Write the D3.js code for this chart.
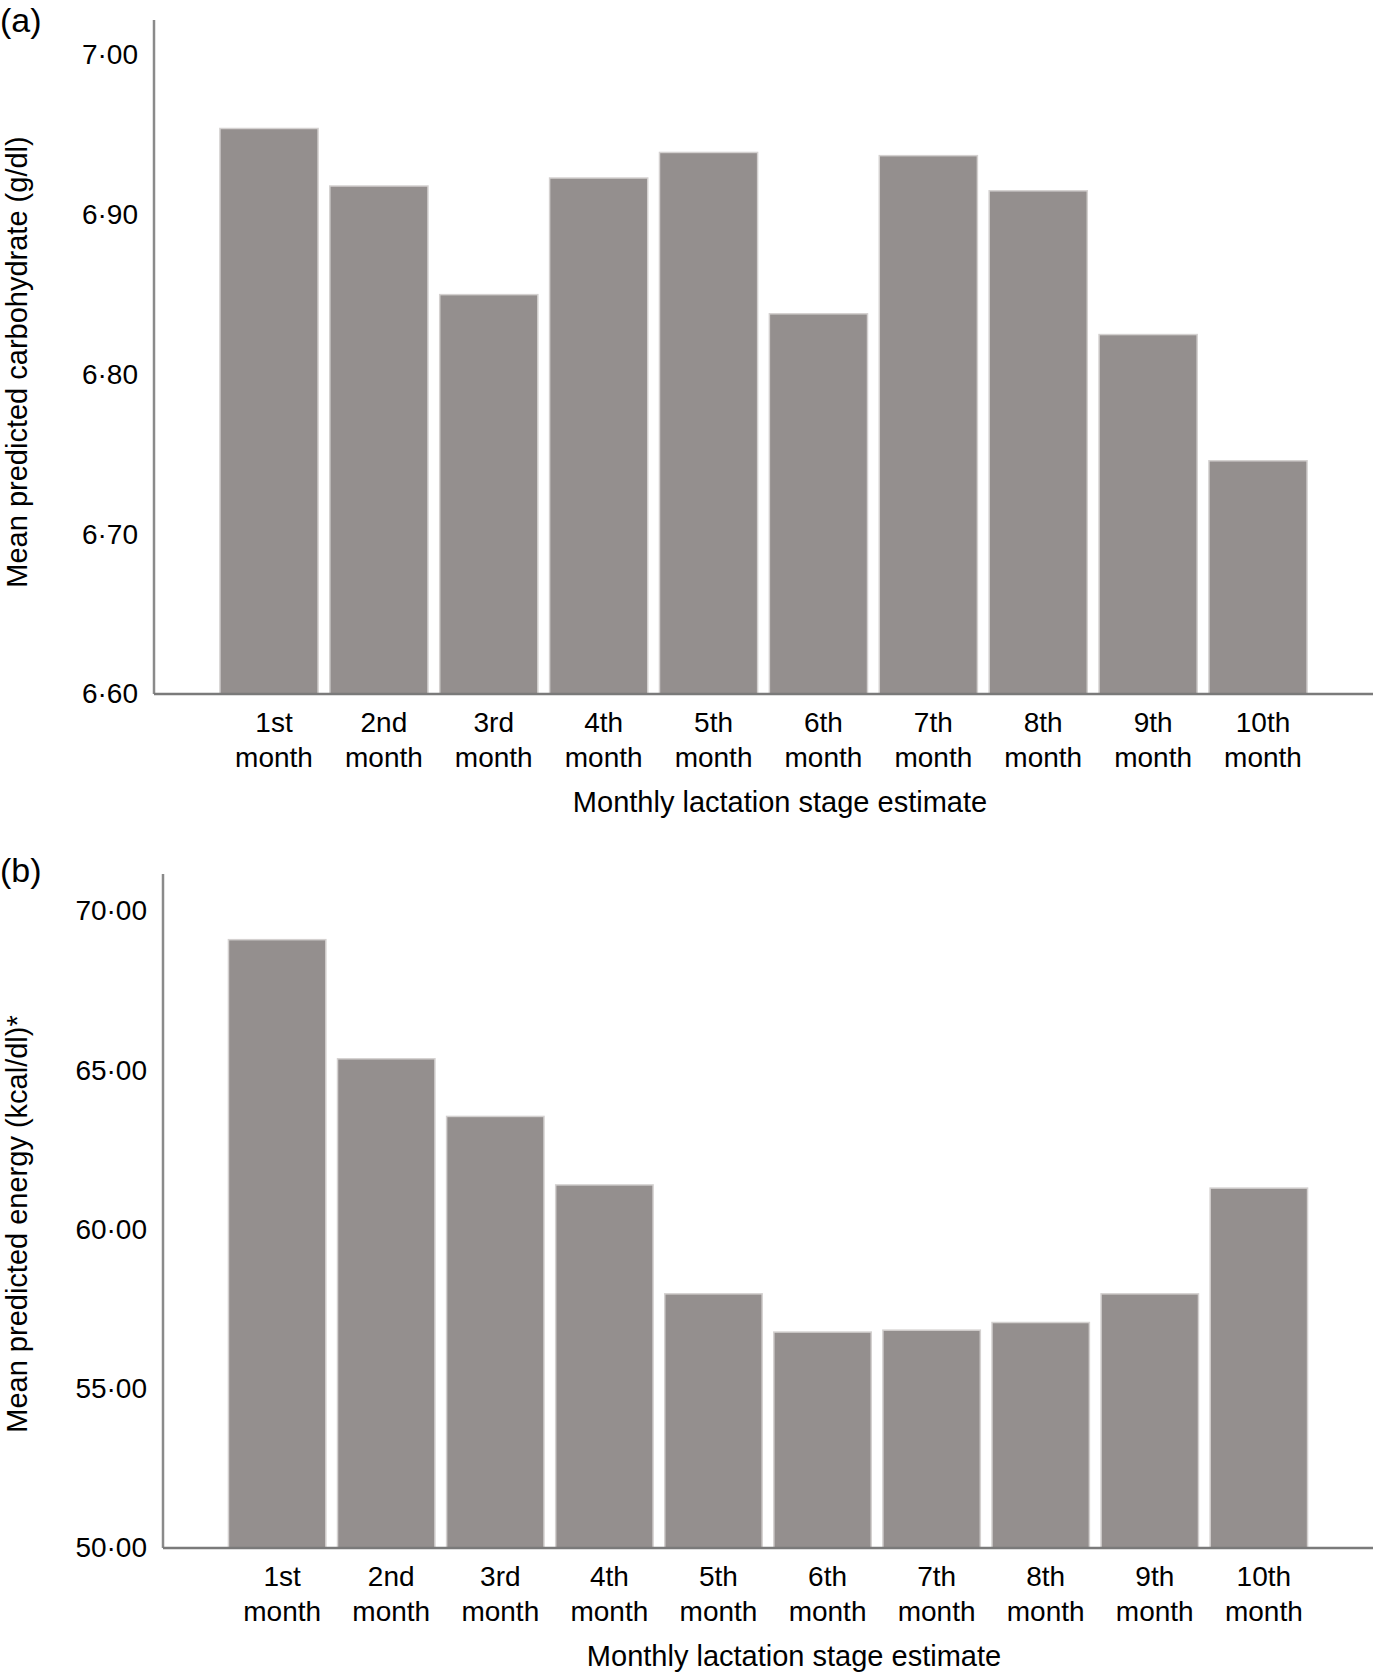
<!DOCTYPE html>
<html>
<head>
<meta charset="utf-8">
<script src="https://cdn.jsdelivr.net/npm/d3@7"></script>
<style>
  body { margin: 0; background: #fff; }
  text { font-family: "Liberation Sans", Arial, sans-serif; fill: #000; }
</style>
</head>
<body>
<svg id="chart" width="1376" height="1675"></svg>
<script>
const months = ['1st', '2nd', '3rd', '4th', '5th', '6th', '7th', '8th', '9th', '10th'];

const carbValues = [6.954, 6.918, 6.850, 6.923, 6.939, 6.838, 6.937, 6.915, 6.825, 6.746];
const carbTicks = [6.60, 6.70, 6.80, 6.90, 7.00];

const energyValues = [69.10, 65.36, 63.55, 61.40, 57.98, 56.78, 56.84, 57.08, 57.98, 61.30];
const energyTicks = [50, 55, 60, 65, 70];

const svg = d3.select('#chart');
const fmt = d3.format('.2f');
const dotFmt = v => fmt(v).replace('.', '\u00b7');

const drawPanel = (opt) => {
  const g = svg.append('g');

  const x = d3.scaleBand()
    .domain(months)
    .range([opt.left, opt.right])
    .paddingInner(0.107)
    .paddingOuter(0.6);

  const y = d3.scaleLinear()
    .domain([opt.ticks[0], opt.ticks[opt.ticks.length - 1]])
    .range([opt.bottom, opt.topTick]);

  // bars
  g.selectAll('rect.bar')
    .data(opt.values)
    .join('rect')
    .attr('class', 'bar')
    .attr('x', (d, i) => x(months[i]))
    .attr('width', x.bandwidth())
    .attr('y', d => y(d))
    .attr('height', d => opt.bottom - y(d))
    .attr('fill', '#948f8e')
    .attr('stroke', '#d4d1d0')
    .attr('stroke-width', 1.5);

  // y axis (labels only, plain line)
  const yAxis = d3.axisLeft(y).tickValues(opt.ticks).tickFormat(dotFmt).tickSize(0).tickPadding(0);
  const ya = g.append('g').attr('transform', `translate(${opt.left - 16},0)`).call(yAxis);
  ya.select('.domain').remove();
  ya.selectAll('text')
    .attr('font-size', 28)
    .attr('font-family', '"Liberation Sans", Arial, sans-serif')
    .attr('fill', '#000')
    .attr('dy', '0.32em');

  g.append('line')
    .attr('x1', opt.left).attr('x2', opt.left)
    .attr('y1', opt.axisTop).attr('y2', opt.bottom)
    .attr('stroke', '#8a8a8a').attr('stroke-width', 2.5);

  g.append('line')
    .attr('x1', opt.left).attr('x2', opt.right)
    .attr('y1', opt.bottom).attr('y2', opt.bottom)
    .attr('stroke', '#7a7a7a').attr('stroke-width', 2.5);

  // x labels, two lines
  const xl = g.selectAll('text.xl')
    .data(months)
    .join('text')
    .attr('class', 'xl')
    .attr('text-anchor', 'middle')
    .attr('font-size', 28)
    .attr('transform', d => `translate(${x(d) + x.bandwidth() / 2 + 5},${opt.bottom + 38})`);
  xl.append('tspan').attr('x', 0).attr('y', 0).text(d => d);
  xl.append('tspan').attr('x', 0).attr('y', 35).text('month');

  g.append('text')
    .attr('x', opt.titleX).attr('y', opt.bottom + 118)
    .attr('text-anchor', 'middle').attr('font-size', 29)
    .text('Monthly lactation stage estimate');

  g.append('text')
    .attr('transform', `translate(27,${opt.yTitleY}) rotate(-90)`)
    .attr('text-anchor', 'middle').attr('font-size', 29)
    .text(opt.yTitle);

  g.append('text')
    .attr('x', 0).attr('y', opt.panelY)
    .attr('font-size', 34)
    .text(opt.panel);
};

drawPanel({
  panel: '(a)', panelY: 32,
  values: carbValues, ticks: carbTicks,
  left: 154, right: 1373, axisTop: 20, topTick: 55, bottom: 694,
  titleX: 780, yTitleY: 362,
  yTitle: 'Mean predicted carbohydrate (g/dl)'
});

drawPanel({
  panel: '(b)', panelY: 882,
  values: energyValues, ticks: energyTicks,
  left: 163, right: 1373, axisTop: 874, topTick: 911, bottom: 1548,
  titleX: 794, yTitleY: 1224,
  yTitle: 'Mean predicted energy (kcal/dl)*'
});
</script>
</body>
</html>
